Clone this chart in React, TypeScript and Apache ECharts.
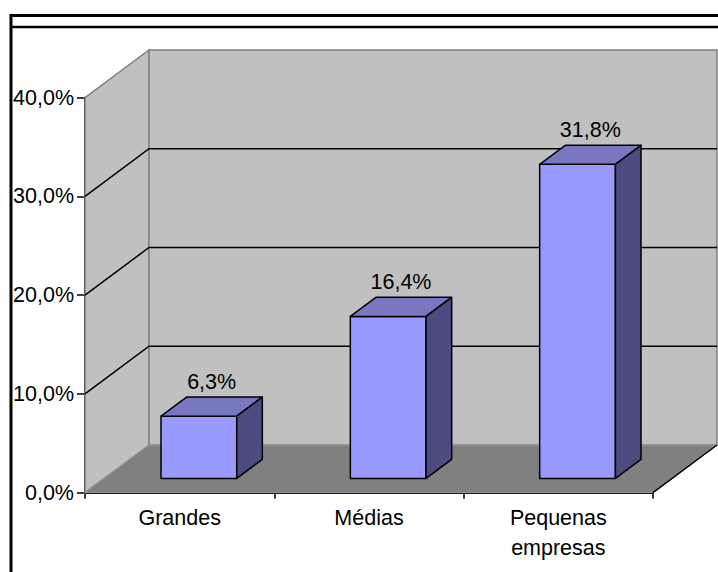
import React, { useEffect, useRef } from "react";
import * as echarts from "echarts";

// Company size categories and their shares (percent)
const categories: string[] = ["Grandes", "Médias", "Pequenas\nempresas"];
const shares: number[] = [6.3, 16.4, 31.8];

// Value axis range and step
const axisMin = 0;
const axisMax = 40;
const axisStep = 10;

// Depth of the 3D box (pixels), bar proportions
const DX = 64;
const DY = -47.7;
const BAR_WIDTH_RATIO = 0.4;
const BAR_FRONT = 0.3;
const BAR_BACK = 0.7;

const FONT = "Liberation Sans, Arial, Helvetica, sans-serif";
const FONT_SIZE = 21.5;

const pct = (v: number) => v.toFixed(1).replace(".", ",") + "%";

export default function App() {
  const ref = useRef<HTMLDivElement>(null);

  useEffect(() => {
    if (!ref.current) return;
    const chart = echarts.init(ref.current, undefined, { renderer: "svg" });

    // walls, floor and back gridlines of the 3D box
    const renderWalls = (params: any, api: any) => {
      const cs = params.coordSys;
      const x0 = cs.x;
      const x1 = cs.x + cs.width;
      const yTop = api.coord([0, axisMax])[1];
      const yBot = api.coord([0, axisMin])[1];
      const children: any[] = [];
      children.push({
        type: "polygon",
        shape: { points: [[x0, yTop], [x0 + DX, yTop + DY], [x0 + DX, yBot + DY], [x0, yBot]] },
        style: { fill: "#C0C0C0", stroke: "#808080", lineWidth: 1.5 },
      });
      children.push({
        type: "polygon",
        shape: { points: [[x0 + DX, yTop + DY], [x1 + DX, yTop + DY], [x1 + DX, yBot + DY], [x0 + DX, yBot + DY]] },
        style: { fill: "#C0C0C0", stroke: "#808080", lineWidth: 1.5 },
      });
      children.push({
        type: "polygon",
        shape: { points: [[x0, yBot], [x1, yBot], [x1 + DX, yBot + DY], [x0 + DX, yBot + DY]] },
        style: { fill: "#808080", stroke: "#9A9A9A", lineWidth: 1 },
      });
      children.push({
        type: "line",
        shape: { x1: x1, y1: yBot, x2: x1 + DX, y2: yBot + DY },
        style: { stroke: "#000", lineWidth: 1.5 },
      });
      for (let v = axisMin + axisStep; v < axisMax; v += axisStep) {
        const y = api.coord([0, v])[1];
        children.push({
          type: "polyline",
          shape: { points: [[x0, y], [x0 + DX, y + DY], [x1 + DX, y + DY]] },
          style: { stroke: "#000", lineWidth: 1.5, fill: "none" },
        });
      }
      return { type: "group", children };
    };

    // one 3D bar with its value label
    const renderBar = (params: any, api: any) => {
      const idx = api.value(0);
      const val = api.value(1);
      const c = api.coord([idx, 0])[0];
      const band = api.size([1, 0])[0];
      const w = band * BAR_WIDTH_RATIO;
      const xl = c - w / 2;
      const xr = c + w / 2;
      const yv = api.coord([idx, val])[1];
      const y0 = api.coord([idx, axisMin])[1];
      const f = (x: number, y: number) => [x + BAR_FRONT * DX, y + BAR_FRONT * DY];
      const b = (x: number, y: number) => [x + BAR_BACK * DX, y + BAR_BACK * DY];
      const edge = { stroke: "#000", lineWidth: 1.5, lineJoin: "round" };
      const midDepth = (BAR_FRONT + BAR_BACK) / 2;
      return {
        type: "group",
        children: [
          {
            type: "polygon",
            shape: { points: [f(xl, yv), f(xr, yv), f(xr, y0), f(xl, y0)] },
            style: { fill: "#9999FF", ...edge },
          },
          {
            type: "polygon",
            shape: { points: [f(xl, yv), f(xr, yv), b(xr, yv), b(xl, yv)] },
            style: { fill: "#7777C2", ...edge },
          },
          {
            type: "polygon",
            shape: { points: [f(xr, yv), b(xr, yv), b(xr, y0), f(xr, y0)] },
            style: { fill: "#4C4C80", ...edge },
          },
          {
            type: "text",
            style: {
              text: pct(val),
              x: c + midDepth * DX,
              y: yv + midDepth * DY - 24.5,
              fill: "#000",
              font: `${FONT_SIZE}px ${FONT}`,
              align: "center",
              verticalAlign: "middle",
              textAlign: "center",
              textVerticalAlign: "middle",
            },
          },
        ],
      };
    };

    chart.setOption({
      animation: false,
      backgroundColor: "#ffffff",
      textStyle: { fontFamily: FONT },
      grid: {
        left: 85,
        top: 97.7,
        right: 65,
        bottom: 79.3,
        containLabel: false,
        outerBoundsMode: "none",
      },
      xAxis: {
        type: "category",
        data: categories,
        axisLine: { show: true, lineStyle: { color: "#000", width: 2 } },
        axisTick: { show: true, length: 6, lineStyle: { color: "#000", width: 1.5 } },
        axisLabel: {
          color: "#000",
          fontSize: FONT_SIZE,
          fontFamily: FONT,
          margin: 10,
          lineHeight: 30,
          interval: 0,
        },
        splitLine: { show: false },
      },
      yAxis: {
        type: "value",
        min: axisMin,
        max: axisMax,
        interval: axisStep,
        axisLine: { show: true, lineStyle: { color: "#000", width: 2 } },
        axisTick: { show: true, length: 8, lineStyle: { color: "#000", width: 1.5 } },
        axisLabel: {
          color: "#000",
          fontSize: FONT_SIZE,
          fontFamily: FONT,
          margin: 11,
          formatter: (v: number) => pct(v),
        },
        splitLine: { show: false },
      },
      graphic: [
        { type: "line", shape: { x1: 10, y1: 15.5, x2: 718, y2: 15.5 }, style: { stroke: "#000", lineWidth: 3 }, z: 100 },
        { type: "line", shape: { x1: 11, y1: 27, x2: 718, y2: 27 }, style: { stroke: "#000", lineWidth: 2.5 }, z: 100 },
        { type: "line", shape: { x1: 11, y1: 14, x2: 11, y2: 572 }, style: { stroke: "#000", lineWidth: 3 }, z: 100 },
      ],
      series: [
        {
          type: "custom",
          renderItem: renderWalls,
          data: [[0, 0]],
          clip: false,
          silent: true,
          z: 1,
        },
        {
          type: "custom",
          renderItem: renderBar,
          data: shares.map((v, i) => [i, v]),
          clip: false,
          z: 3,
        },
      ],
    });

    return () => chart.dispose();
  }, []);

  return (
    <div
      ref={ref}
      style={{ position: "absolute", left: 0, top: 0, width: 718, height: 572 }}
    />
  );
}
